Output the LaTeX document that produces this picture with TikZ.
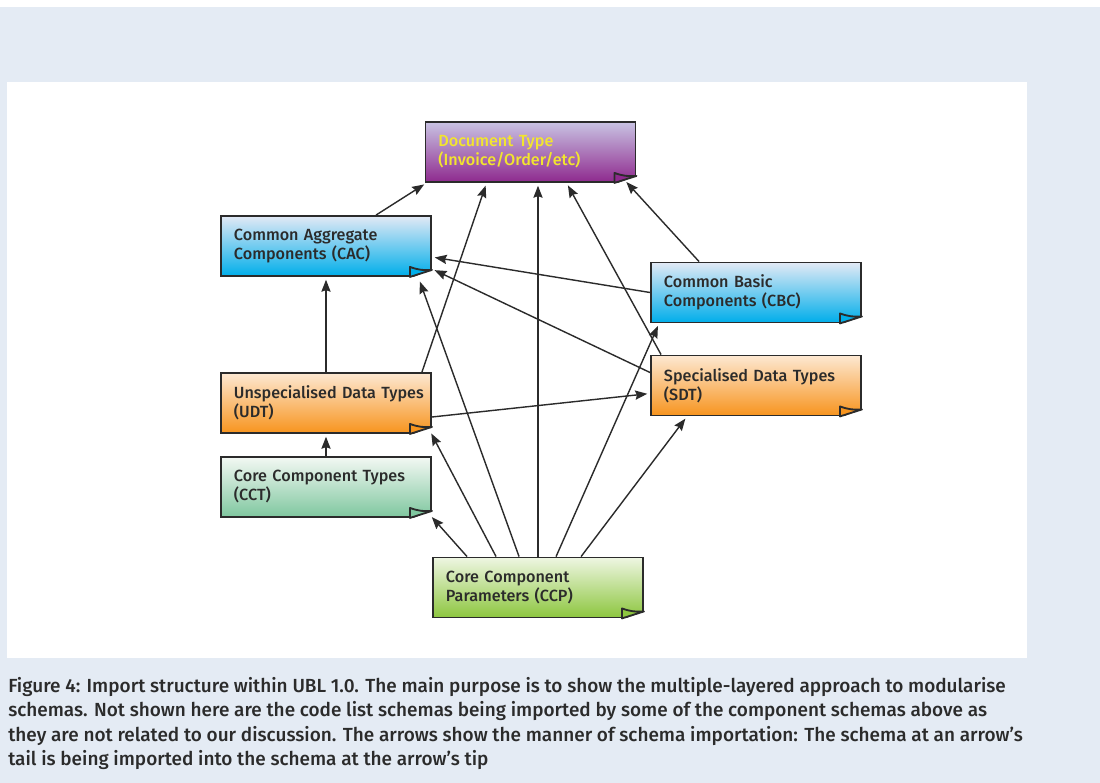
\documentclass[tikz,border=0pt]{standalone}
\usepackage{fontspec}
\setmainfont{Fira Sans Medium}
\usetikzlibrary{calc,arrows.meta}
\definecolor{pagebg}{HTML}{E4EBF4}
\definecolor{ink}{HTML}{2B2B2B}
\definecolor{docT}{HTML}{C9C3E3}
\definecolor{docB}{HTML}{8E2A8E}
\definecolor{cacT}{HTML}{E2E9F5}
\definecolor{cacB}{HTML}{00AEEA}
\definecolor{udtT}{HTML}{FDE8D2}
\definecolor{udtB}{HTML}{F7941E}
\definecolor{cctT}{HTML}{F3F8F3}
\definecolor{cctB}{HTML}{7FC79F}
\definecolor{ccpT}{HTML}{EEF6E2}
\definecolor{ccpB}{HTML}{8DC63F}
\definecolor{docText}{HTML}{F2E52E}
\tikzset{
	schema/.style={draw=ink, line width=1.3pt, minimum width=5.25cm, minimum height=1.5cm,
		text width=4.6cm, inner xsep=0.325cm, align=left, text=ink,
		font=\fontsize{11.5}{13.5}\selectfont, top color=#1T, bottom color=#1B},
	imp/.style={->, draw=ink, line width=1pt, shorten >=2pt},
}
\begin{document}
\begin{tikzpicture}[x=0.025cm, y=-0.025cm, >={Stealth[length=3mm,width=2.3mm,inset=0.4mm]}]
	\useasboundingbox (0,0) rectangle (1100,783);
	\fill[white] (0,0) rectangle (1100,783);
	\fill[pagebg] (0,7) rectangle (1100,783);
	\fill[white] (7,82) rectangle (1027,658);

	\node[schema=doc, text=docText] (doc) at (530.5,152) {Document Type\\(Invoice/Order/etc)};
	\node[schema=cac] (cac) at (326,246) {Common Aggregate\\Components (CAC)};
	\node[schema=cac] (cbc) at (756,292.5) {Common Basic\\Components (CBC)};
	\node[schema=udt] (sdt) at (756,385.5) {Specialised Data Types\\(SDT)};
	\node[schema=udt] (udt) at (326,403) {\mbox{Unspecialised Data Types}\\(UDT)};
	\node[schema=cct] (cct) at (326,487) {Core Component Types\\(CCT)};
	\node[schema=ccp] (ccp) at (538,587.5) {Core Component\\Parameters (CCP)};

	\foreach \n/\c in {doc/docB, cac/cacB, cbc/cacB, sdt/udtB, udt/udtB, cct/cctB, ccp/ccpB} {
		\fill[white] ($(\n.south east)+(-22.5,1.5)$) -- ($(\n.south east)+(1.5,1.5)$) -- ($(\n.south east)+(1.5,-7.4)$) -- cycle;
		\filldraw[fill=\c, draw=ink, line width=1.3pt, line join=round] ($(\n.south east)+(-22,0)$) -- ($(\n.south east)+(-22,-10)$) to[bend right=12] ($(\n.south east)+(0,-7)$) -- cycle;
	}

	\draw[imp] ($(cac.north)+(50,0)$) -- ($(doc.south west)+(2,0)$);
	\draw[imp] ($(udt.north east)+(-10,0)$) -- ($(doc.south west)+(62,0)$);
	\draw[imp] (ccp.north) -- (ccp.north |- doc.south);
	\draw[imp] ($(sdt.north west)+(11,0)$) -- ($(doc.south west)+(142,0)$);
	\draw[imp] ($(cbc.north west)+(49,0)$) -- ($(doc.south east)+(-12,-3)$);
	\draw[imp] (cbc.west) -- ($(cac.east)+(0,11)$);
	\draw[imp] ($(sdt.west)+(0,-13)$) -- ($(cac.south east)+(0,-8)$);
	\draw[imp] (udt.north) -- (cac.south);
	\draw[imp] ($(ccp.north west)+(87,0)$) -- ($(cac.south east)+(-13,2)$);
	\draw[imp] ($(udt.east)+(0,14)$) -- ($(sdt.west)+(0,8)$);
	\draw[imp] ($(ccp.north west)+(124,0)$) -- ($(cbc.south west)+(9,0)$);
	\draw[imp] (cct.north) -- (udt.south);
	\draw[imp] ($(ccp.north west)+(35,0)$) -- ($(cct.south east)+(-2,-3)$);
	\draw[imp] ($(ccp.north west)+(64,0)$) -- ($(udt.south east)+(-2,-3)$);
	\draw[imp] ($(ccp.north west)+(149,0)$) -- ($(sdt.south west)+(37,0)$);

	\node[anchor=north west, inner sep=0pt, align=left, text=ink, font=\fontsize{13.5}{17.4}\selectfont] (caption) at (8,677) {Figure 4: Import structure within UBL 1.0. The main purpose is to show the multiple-layered approach to modularise\\schemas. Not shown here are the code list schemas being imported by some of the component schemas above as\\they are not related to our discussion. The arrows show the manner of schema importation: The schema at an arrow's\\tail is being imported into the schema at the arrow's tip};
\end{tikzpicture}
\end{document}
